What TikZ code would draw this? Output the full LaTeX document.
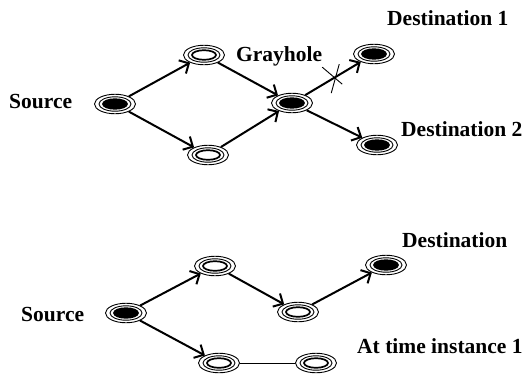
\documentclass[tikz,border=0pt]{standalone}
\usepackage{fontspec}
\setmainfont{Liberation Serif}
\usetikzlibrary{arrows.meta,shapes.geometric}
\tikzset{
  x=1pt, y=-1pt,
  netnode/.style={ellipse, draw, line width=0.9pt, minimum width=41pt, minimum height=19.5pt, inner sep=0pt,
    path picture={
      \draw[line width=0.9pt] (path picture bounding box.center) ellipse (16pt and 7.2pt);
      \draw[line width=1.7pt, fill=#1] (path picture bounding box.center) ellipse (12pt and 4.8pt);
    }},
  netnode/.default=white,
  filled/.style={netnode=black},
  hollow/.style={netnode=white},
  lbl/.style={font=\fontsize{21.5}{25}\selectfont\bfseries, anchor=base west, inner sep=0pt},
  arr/.style={line width=2pt, -{Straight Barb[length=7.5pt, width=15pt, line width=2pt]}},
  thinline/.style={line width=0.9pt},
}
\begin{document}
\begin{tikzpicture}
\useasboundingbox (0,0) rectangle (526,381);
% top graph
\node[filled] (s1) at (115,104) {};
\node[hollow] (a1) at (204,55) {};
\node[hollow] (b1) at (208,155) {};
\node[filled] (g1) at (292,103) {};
\node[filled] (d1) at (374,54) {};
\node[filled] (d2) at (377,145) {};
\node[lbl] (ls1) at (9,108) {Source};
\node[lbl] (lg) at (236,61) {Grayhole};
\node[lbl] (ld1) at (387,25) {Destination 1};
\node[lbl] (ld2) at (401,136) {Destination 2};
\draw[arr] (s1) -- (a1);
\draw[arr] (s1) -- (b1);
\draw[arr] (a1) -- (g1);
\draw[arr] (b1) -- (g1);
\draw[arr] (g1) -- (d1) coordinate[pos=0.45] (cx);
\draw[thinline] ([shift={(-8,-13)}]cx) -- ([shift={(12,4)}]cx);
\draw[thinline] ([shift={(1,13)}]cx) -- ([shift={(9,-16)}]cx);
\draw[arr] (g1) -- (d2);
% bottom graph
\node[filled] (s2) at (126,313) {};
\node[hollow] (c2) at (215,266) {};
\node[hollow] (e2) at (298,312) {};
\node[filled] (d3) at (386,265) {};
\node[hollow] (f2) at (219,363) {};
\node[hollow] (h2) at (316,363) {};
\node[lbl] (ls2) at (21,321) {Source};
\node[lbl] (ld3) at (402,247) {Destination};
\node[lbl] (lt) at (357,353) {At time instance 1};
\draw[arr] (s2) -- (c2);
\draw[arr] (c2) -- (e2);
\draw[arr] (e2) -- (d3);
\draw[arr] (s2) -- (f2);
\draw[thinline] (f2) -- (h2);
\end{tikzpicture}
\end{document}
